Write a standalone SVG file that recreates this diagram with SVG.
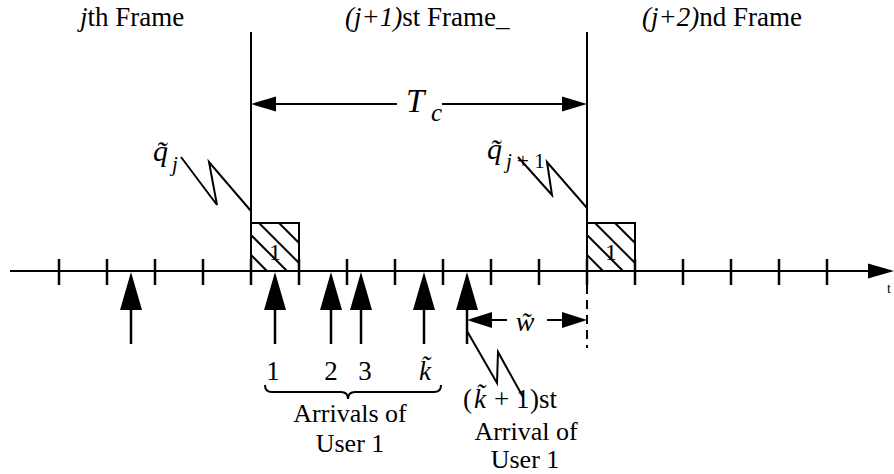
<svg xmlns="http://www.w3.org/2000/svg" width="894" height="474" viewBox="0 0 894 474">
<style>
.ln{stroke:#000;stroke-width:2;fill:none}
.tk{stroke:#000;stroke-width:2.5;fill:none}
.ar{fill:#000;stroke:none}
text{fill:#000;font-family:"Liberation Serif","Times New Roman",serif}
.i{font-style:italic}
</style>
<rect width="894" height="474" fill="#fff"/>
<g id="connectors">
  <line class="ln" x1="10" y1="271" x2="870" y2="271"/>
  <polygon class="ar" points="868,263.5 894,271 868,278.5"/>
  <g class="tk">
    <line x1="59" y1="259" x2="59" y2="285"/>
    <line x1="107" y1="259" x2="107" y2="285"/>
    <line x1="155" y1="259" x2="155" y2="285"/>
    <line x1="203" y1="259" x2="203" y2="285"/>
    <line x1="251" y1="259" x2="251" y2="285"/>
    <line x1="299" y1="259" x2="299" y2="285"/>
    <line x1="347" y1="259" x2="347" y2="285"/>
    <line x1="395" y1="259" x2="395" y2="285"/>
    <line x1="443" y1="259" x2="443" y2="285"/>
    <line x1="491" y1="259" x2="491" y2="285"/>
    <line x1="539" y1="259" x2="539" y2="285"/>
    <line x1="587" y1="259" x2="587" y2="285"/>
    <line x1="635" y1="259" x2="635" y2="285"/>
    <line x1="683" y1="259" x2="683" y2="285"/>
    <line x1="731" y1="259" x2="731" y2="285"/>
    <line x1="779" y1="259" x2="779" y2="285"/>
    <line x1="827" y1="259" x2="827" y2="285"/>
  </g>
  <line class="ln" x1="251" y1="32" x2="251" y2="223"/>
  <line class="ln" x1="587" y1="32" x2="587" y2="223"/>
  <line class="ln" x1="587" y1="285" x2="587" y2="348" stroke-dasharray="9,6"/>
  <line class="ln" x1="270" y1="104" x2="397" y2="104" stroke-width="2.5"/>
  <line class="ln" x1="442" y1="104" x2="568" y2="104" stroke-width="2.5"/>
  <polygon class="ar" points="251,104 276,96.5 276,111.5"/>
  <polygon class="ar" points="587,104 562,96.5 562,111.5"/>
  <line class="ln" x1="488" y1="320" x2="507" y2="320" stroke-width="2.5"/>
  <line class="ln" x1="547" y1="320" x2="566" y2="320" stroke-width="2.5"/>
  <polygon class="ar" points="467,320 492,312 492,328"/>
  <polygon class="ar" points="587,320 562,312 562,328"/>
  <g class="tk">
    <line x1="131" y1="305" x2="131" y2="344"/>
    <line x1="275" y1="305" x2="275" y2="344"/>
    <line x1="331" y1="305" x2="331" y2="344"/>
    <line x1="361" y1="305" x2="361" y2="344"/>
    <line x1="424" y1="305" x2="424" y2="344"/>
    <line x1="467" y1="305" x2="467" y2="344"/>
  </g>
  <g class="ar">
    <polygon points="131,272 120,310 142,310"/>
    <polygon points="275,272 264,310 286,310"/>
    <polygon points="331,272 320,310 342,310"/>
    <polygon points="361,272 350,310 372,310"/>
    <polygon points="424,272 413,310 435,310"/>
    <polygon points="467,272 456,310 478,310"/>
  </g>
  <polyline class="ln" points="181,157 217,205 209,162 251,211"/>
  <polyline class="ln" points="518,157 552,195 547,162 587,208"/>
  <polyline class="ln" points="467,331 497,383 498,352 523,397"/>
  <path class="ln" stroke-width="1.6" d="M265,385 Q265,392 272,392 L341,392 Q348,392 348,399 Q348,392 355,392 L434,392 Q441,392 441,385"/>
</g>
<g id="slot1">
  <rect class="ln" x="251" y="223" width="48" height="48"/>
  <g class="ln" stroke-width="1.8">
    <line x1="279" y1="223" x2="299" y2="243"/>
    <line x1="259" y1="223" x2="299" y2="263"/>
    <line x1="251" y1="235" x2="287" y2="271"/>
    <line x1="251" y1="255" x2="267" y2="271"/>
  </g>
  <text x="275" y="260" font-size="24" text-anchor="middle">1</text>
</g>
<g id="slot2">
  <rect class="ln" x="587" y="223" width="48" height="48"/>
  <g class="ln" stroke-width="1.8">
    <line x1="615" y1="223" x2="635" y2="243"/>
    <line x1="595" y1="223" x2="635" y2="263"/>
    <line x1="587" y1="235" x2="623" y2="271"/>
    <line x1="587" y1="255" x2="603" y2="271"/>
  </g>
  <text x="611" y="260" font-size="24" text-anchor="middle">1</text>
</g>
<g id="labels" font-size="27">
  <text x="80" y="26"><tspan class="i">j</tspan>th Frame</text>
  <text x="345" y="26"><tspan class="i">(j+1)</tspan>st Frame_</text>
  <text x="642" y="26"><tspan class="i">(j+2)</tspan>nd Frame</text>
  <text class="i" x="406" y="112" font-size="33">T</text>
  <text class="i" x="431" y="121" font-size="25">c</text>
  <text class="i" x="153" y="161" font-size="30">q̃</text>
  <text class="i" x="172" y="171" font-size="21">j</text>
  <text class="i" x="487" y="159" font-size="30">q̃</text>
  <text x="506" y="168" font-size="21"><tspan class="i">j</tspan> + 1</text>
  <text class="i" x="525" y="331" font-size="28" text-anchor="middle">w̃</text>
  <text x="273" y="380" text-anchor="middle">1</text>
  <text x="331" y="380" text-anchor="middle">2</text>
  <text x="365" y="380" text-anchor="middle">3</text>
  <text class="i" x="425" y="380" text-anchor="middle">k̃</text>
  <text x="350" y="422" font-size="26" text-anchor="middle">Arrivals of</text>
  <text x="350" y="452" font-size="26" text-anchor="middle">User 1</text>
  <text x="463" y="408" font-size="27">(<tspan class="i" x="474">k̃</tspan><tspan x="494">+</tspan><tspan x="516">1</tspan><tspan x="530">)st</tspan></text>
  <text x="526" y="440" font-size="26" text-anchor="middle">Arrival of</text>
  <text x="525" y="468" font-size="26" text-anchor="middle">User 1</text>
  <text x="887" y="293" font-size="14">t</text>
</g>
</svg>
